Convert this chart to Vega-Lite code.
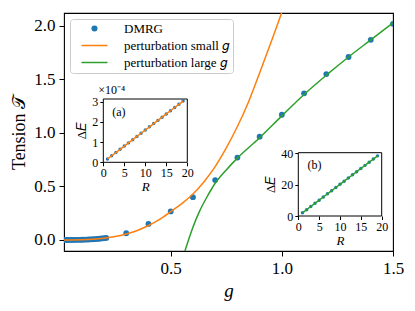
{
  "$schema": "https://vega.github.io/schema/vega-lite/v6.json",
  "width": 329,
  "height": 238,
  "autosize": {"type": "none"},
  "padding": {"left": 64, "top": 13, "right": 22, "bottom": 60},
  "background": "white",
  "datasets": {
    "dmrg": [
      {"g": 0.02, "T": 0.0}, {"g": 0.03, "T": 0.0001}, {"g": 0.04, "T": 0.0001}, {"g": 0.05, "T": 0.0003},
      {"g": 0.06, "T": 0.0005}, {"g": 0.07, "T": 0.0007}, {"g": 0.08, "T": 0.0011}, {"g": 0.09, "T": 0.0015},
      {"g": 0.10, "T": 0.0021}, {"g": 0.11, "T": 0.0028}, {"g": 0.12, "T": 0.0036}, {"g": 0.13, "T": 0.0046},
      {"g": 0.14, "T": 0.0057}, {"g": 0.15, "T": 0.0070}, {"g": 0.16, "T": 0.0085}, {"g": 0.17, "T": 0.0102},
      {"g": 0.18, "T": 0.0121}, {"g": 0.19, "T": 0.0143}, {"g": 0.20, "T": 0.0166}, {"g": 0.21, "T": 0.0193},
      {"g": 0.3, "T": 0.063}, {"g": 0.4, "T": 0.15}, {"g": 0.5, "T": 0.267}, {"g": 0.6, "T": 0.40},
      {"g": 0.7, "T": 0.56}, {"g": 0.8, "T": 0.77}, {"g": 0.9, "T": 0.965}, {"g": 1.0, "T": 1.17},
      {"g": 1.1, "T": 1.37}, {"g": 1.2, "T": 1.55}, {"g": 1.3, "T": 1.71}, {"g": 1.4, "T": 1.87},
      {"g": 1.5, "T": 2.02}
    ],
    "small": [
      {"g": 0.02, "T": 0.0}, {"g": 0.05, "T": 0.0003}, {"g": 0.1, "T": 0.002}, {"g": 0.15, "T": 0.007},
      {"g": 0.2, "T": 0.017}, {"g": 0.25, "T": 0.032}, {"g": 0.3, "T": 0.056}, {"g": 0.35, "T": 0.089},
      {"g": 0.4, "T": 0.135}, {"g": 0.45, "T": 0.193}, {"g": 0.5, "T": 0.265}, {"g": 0.55, "T": 0.34},
      {"g": 0.6, "T": 0.43}, {"g": 0.65, "T": 0.545}, {"g": 0.7, "T": 0.685}, {"g": 0.75, "T": 0.86},
      {"g": 0.8, "T": 1.06}, {"g": 0.85, "T": 1.29}, {"g": 0.9, "T": 1.56}, {"g": 0.95, "T": 1.84},
      {"g": 1.0, "T": 2.13}, {"g": 1.03, "T": 2.32}
    ],
    "large": [
      {"g": 0.564, "T": -0.103}, {"g": 0.58, "T": 0.0}, {"g": 0.6, "T": 0.12}, {"g": 0.63, "T": 0.27},
      {"g": 0.66, "T": 0.39}, {"g": 0.7, "T": 0.53}, {"g": 0.75, "T": 0.655}, {"g": 0.8, "T": 0.765},
      {"g": 0.9, "T": 0.955}, {"g": 1.0, "T": 1.16}, {"g": 1.1, "T": 1.36}, {"g": 1.2, "T": 1.54},
      {"g": 1.3, "T": 1.71}, {"g": 1.4, "T": 1.87}, {"g": 1.5, "T": 2.03}
    ],
    "insetA": [
      {"R": 1, "dE": 0.0000165}, {"R": 2, "dE": 0.0000324}, {"R": 3, "dE": 0.0000483}, {"R": 4, "dE": 0.0000642},
      {"R": 5, "dE": 0.0000801}, {"R": 6, "dE": 0.000096}, {"R": 7, "dE": 0.0001119}, {"R": 8, "dE": 0.0001278},
      {"R": 9, "dE": 0.0001437}, {"R": 10, "dE": 0.0001596}, {"R": 11, "dE": 0.0001755}, {"R": 12, "dE": 0.0001914},
      {"R": 13, "dE": 0.0002073}, {"R": 14, "dE": 0.0002232}, {"R": 15, "dE": 0.0002391}, {"R": 16, "dE": 0.000255},
      {"R": 17, "dE": 0.0002709}, {"R": 18, "dE": 0.0002868}, {"R": 19, "dE": 0.0003027}
    ],
    "insetB": [
      {"R": 1, "dE": 2.02}, {"R": 2, "dE": 4.04}, {"R": 3, "dE": 6.06}, {"R": 4, "dE": 8.08},
      {"R": 5, "dE": 10.1}, {"R": 6, "dE": 12.12}, {"R": 7, "dE": 14.14}, {"R": 8, "dE": 16.16},
      {"R": 9, "dE": 18.18}, {"R": 10, "dE": 20.2}, {"R": 11, "dE": 22.22}, {"R": 12, "dE": 24.24},
      {"R": 13, "dE": 26.26}, {"R": 14, "dE": 28.28}, {"R": 15, "dE": 30.3}, {"R": 16, "dE": 32.32},
      {"R": 17, "dE": 34.34}, {"R": 18, "dE": 36.36}, {"R": 19, "dE": 38.38}
    ],
    "one": [{"panel": "inset"}]
  },
  "layer": [
    {
      "encoding": {
        "x": {"field": "g", "type": "quantitative",
          "scale": {"domain": [0.02, 1.5], "nice": false, "zero": false},
          "axis": {"orient": "bottom", "values": [0.5, 1.0, 1.5], "format": ".1f", "labelFontSize": 17, "tickSize": 5, "labelPadding": 4, "title": "g", "titleFontStyle": "italic", "titleFontSize": 19, "titlePadding": 5}},
        "y": {"field": "T", "type": "quantitative",
          "scale": {"domain": [-0.103, 2.121], "nice": false, "zero": false},
          "axis": {"orient": "left", "values": [0, 0.5, 1.0, 1.5, 2.0], "format": ".1f", "labelFontSize": 17, "tickSize": 5, "labelPadding": 4, "title": "Tension 𝒯", "titleFontSize": 18, "titlePadding": 5}},
        "color": {"datum": "DMRG", "type": "nominal",
          "scale": {"domain": ["DMRG", "perturbation small 𝑔", "perturbation large 𝑔"], "range": ["#1f77b4", "#ff7f0e", "#2ca02c"]},
          "legend": {
            "orient": "none", "legendX": 6, "legendY": 6, "title": null, "padding": 3,
            "fillColor": "rgba(255,255,255,0.8)", "strokeColor": "#cccccc", "cornerRadius": 3,
            "labelFont": "Liberation Serif", "labelFontSize": 13, "labelLimit": 300, "labelOffset": 23,
            "symbolType": "stroke", "symbolSize": 100, "symbolStrokeWidth": 1.5, "symbolOffset": 15, "rowPadding": 3,
            "encode": {"symbols": {"update": {
              "shape": {"signal": "datum.value === 'DMRG' ? 'M0.46,0A0.46,0.46 0 1,1 -0.46,0A0.46,0.46 0 1,1 0.46,0Z' : 'M-2.6,0H2.6'"},
              "size": {"value": 100},
              "strokeWidth": {"value": 1.5},
              "stroke": {"scale": "color", "field": "value"},
              "fill": {"signal": "datum.value === 'DMRG' ? '#1f77b4' : 'transparent'"},
              "opacity": {"value": 1}
            }}}
          }}
      },
      "layer": [
        {"data": {"name": "dmrg"}, "mark": {"type": "point", "filled": true, "size": 34, "opacity": 1, "clip": true}},
        {"data": {"name": "small"}, "mark": {"type": "line", "strokeWidth": 1.5, "clip": true, "interpolate": "monotone"},
          "encoding": {"color": {"datum": "perturbation small 𝑔", "type": "nominal"}}},
        {"data": {"name": "large"}, "mark": {"type": "line", "strokeWidth": 1.5, "clip": true, "interpolate": "monotone"},
          "encoding": {"color": {"datum": "perturbation large 𝑔", "type": "nominal"}}}
      ]
    },
    {
      "layer": [
        {"data": {"name": "one"}, "mark": {"type": "rect", "fill": "white", "stroke": "black", "strokeWidth": 1},
          "encoding": {
            "x": {"datum": 0, "type": "quantitative",
              "scale": {"domain": [0, 20], "range": [39.3, 123.3], "nice": false, "zero": false},
              "axis": {"orient": "bottom", "offset": -88.7, "values": [0, 5, 10, 15, 20], "labelFontSize": 12, "tickSize": 3.5, "labelPadding": 2, "title": "R", "titleFontStyle": "italic", "titleFontSize": 13, "titlePadding": 2}},
            "x2": {"datum": 20},
            "y": {"datum": 0, "type": "quantitative",
              "scale": {"domain": [0, 0.000313], "range": [149.3, 86], "nice": false, "zero": false},
              "axis": {"orient": "left", "offset": -39.3, "values": [0, 0.0001, 0.0002, 0.0003], "labelExpr": "round(datum.value * 10000)", "labelFontSize": 12, "tickSize": 3.5, "labelPadding": 2, "title": "Δ𝐸", "titleFontSize": 13, "titlePadding": 3}},
            "y2": {"datum": 0.000313}}},
        {"data": {"name": "insetA"}, "mark": {"type": "point", "filled": true, "size": 12, "opacity": 1, "color": "#1f77b4"},
          "encoding": {"x": {"field": "R", "type": "quantitative"}, "y": {"field": "dE", "type": "quantitative"}}},
        {"data": {"name": "insetA"}, "mark": {"type": "line", "strokeWidth": 1.5, "color": "#ff7f0e"},
          "encoding": {"x": {"field": "R", "type": "quantitative"}, "y": {"field": "dE", "type": "quantitative"}}},
        {"data": {"name": "one"}, "mark": {"type": "text", "text": "(a)", "fontSize": 12, "font": "Liberation Serif", "align": "center", "baseline": "middle"},
          "encoding": {"x": {"datum": 3.7, "type": "quantitative"}, "y": {"datum": 0.00025, "type": "quantitative"}}},
        {"data": {"name": "one"}, "mark": {"type": "text", "text": "×10⁻⁴", "fontSize": 12, "font": "Liberation Serif", "align": "left", "baseline": "bottom", "dx": -5, "dy": -2},
          "encoding": {"x": {"datum": 0, "type": "quantitative"}, "y": {"datum": 0.000313, "type": "quantitative"}}}
      ]
    },
    {
      "layer": [
        {"data": {"name": "one"}, "mark": {"type": "rect", "fill": "white", "stroke": "black", "strokeWidth": 1},
          "encoding": {
            "x": {"datum": 0, "type": "quantitative",
              "scale": {"domain": [0, 20], "range": [234.3, 317.7], "nice": false, "zero": false},
              "axis": {"orient": "bottom", "offset": -35, "values": [0, 5, 10, 15, 20], "labelFontSize": 12, "tickSize": 3.5, "labelPadding": 2, "title": "R", "titleFontStyle": "italic", "titleFontSize": 13, "titlePadding": 2}},
            "x2": {"datum": 20},
            "y": {"datum": 0, "type": "quantitative",
              "scale": {"domain": [0, 40.4], "range": [203, 139.7], "nice": false, "zero": false},
              "axis": {"orient": "left", "offset": -234.3, "values": [0, 20, 40], "labelFontSize": 12, "tickSize": 3.5, "labelPadding": 2, "title": "Δ𝐸", "titleFontSize": 13, "titlePadding": 3}},
            "y2": {"datum": 40.4}}},
        {"data": {"name": "insetB"}, "mark": {"type": "point", "filled": true, "size": 12, "opacity": 1, "color": "#1f77b4"},
          "encoding": {"x": {"field": "R", "type": "quantitative"}, "y": {"field": "dE", "type": "quantitative"}}},
        {"data": {"name": "insetB"}, "mark": {"type": "line", "strokeWidth": 1.5, "color": "#2ca02c"},
          "encoding": {"x": {"field": "R", "type": "quantitative"}, "y": {"field": "dE", "type": "quantitative"}}},
        {"data": {"name": "one"}, "mark": {"type": "text", "text": "(b)", "fontSize": 12, "font": "Liberation Serif", "align": "center", "baseline": "middle"},
          "encoding": {"x": {"datum": 3.9, "type": "quantitative"}, "y": {"datum": 32.5, "type": "quantitative"}}}
      ]
    }
  ],
  "resolve": {"scale": {"x": "independent", "y": "independent"}, "axis": {"x": "independent", "y": "independent"}},
  "config": {
    "font": "Liberation Serif",
    "view": {"stroke": "black", "strokeWidth": 1.1},
    "axis": {"grid": false, "domain": false, "tickColor": "black", "tickWidth": 1, "labelColor": "black", "titleColor": "black", "titleFontWeight": "normal", "labelFont": "Liberation Serif", "titleFont": "Liberation Serif", "labelFlush": false, "labelOverlap": false}
  }
}
